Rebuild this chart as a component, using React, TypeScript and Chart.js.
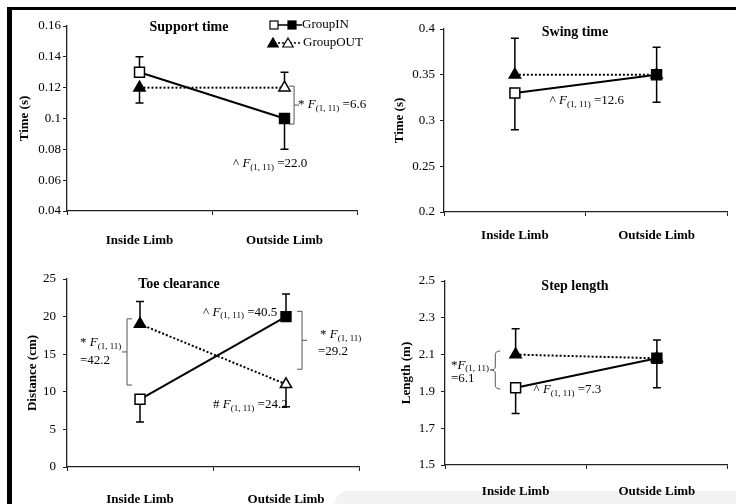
import React, { useEffect, useRef } from "react";
import { Chart, registerables } from "chart.js";

Chart.register(...registerables);

const FONT = '"Liberation Serif", "Times New Roman", serif';

// ---------- data ----------
const categories = ["Inside Limb", "Outside Limb"];
const seriesNames = ["GroupIN", "GroupOUT"];

const supportIn = [0.13, 0.1];
const supportOut = [0.12, 0.12];
const supportInUp = [0.01, 0];
const supportInDown = [0, 0.02];
const supportOutUp = [0, 0.01];
const supportOutDown = [0.01, 0];
const supportTicks = [0.04, 0.06, 0.08, 0.1, 0.12, 0.14, 0.16];
const supportTickLabels = ["0.04", "0.06", "0.08", "0.1", "0.12", "0.14", "0.16"];

const swingIn = [0.33, 0.35];
const swingOut = [0.35, 0.35];
const swingInUp = [0, 0.03];
const swingInDown = [0.04, 0.03];
const swingOutUp = [0.04, 0];
const swingOutDown = [0, 0];
const swingTicks = [0.2, 0.25, 0.3, 0.35, 0.4];
const swingTickLabels = ["0.2", "0.25", "0.3", "0.35", "0.4"];

const toeIn = [9, 20];
const toeOut = [19, 11];
const toeInUp = [0, 3];
const toeInDown = [3, 0];
const toeOutUp = [3, 0];
const toeOutDown = [0, 3];
const toeTicks = [0, 5, 10, 15, 20, 25];
const toeTickLabels = ["0", "5", "10", "15", "20", "25"];

const stepIn = [1.92, 2.08];
const stepOut = [2.1, 2.08];
const stepInUp = [0, 0.1];
const stepInDown = [0.14, 0.16];
const stepOutUp = [0.14, 0];
const stepOutDown = [0, 0];
const stepTicks = [1.5, 1.7, 1.9, 2.1, 2.3, 2.5];
const stepTickLabels = ["1.5", "1.7", "1.9", "2.1", "2.3", "2.5"];

// ---------- annotation helpers ----------
type Part = { t: string; it?: boolean; sub?: boolean };
type Note =
  | { kind: "text"; x: number; y: number; parts: Part[] }
  | { kind: "bracket"; x: number; y1: number; y2: number; side: "left" | "right" | "curly" };

const F = (pre: string, post: string): Part[] => [
  { t: pre },
  { t: "F", it: true },
  { t: "(1, 11)", sub: true },
  { t: post },
];

const supportNotes: Note[] = [
  { kind: "bracket", x: 1.066, y1: 0.121, y2: 0.0964, side: "right" },
  { kind: "text", x: 1.093, y: 0.1088, parts: F("* ", " =6.6") },
  { kind: "text", x: 0.645, y: 0.0705, parts: F("^ ", " =22.0") },
];
const swingNotes: Note[] = [
  { kind: "text", x: 0.246, y: 0.3213, parts: F("^ ", " =12.6") },
];
const toeNotes: Note[] = [
  { kind: "bracket", x: -0.089, y1: 19.7, y2: 10.9, side: "left" },
  { kind: "text", x: -0.411, y: 16.5, parts: F("* ", "") },
  { kind: "text", x: -0.411, y: 14.1, parts: [{ t: "=42.2" }] },
  { kind: "bracket", x: 1.11, y1: 20.7, y2: 13.0, side: "right" },
  { kind: "text", x: 1.233, y: 17.55, parts: F("* ", "") },
  { kind: "text", x: 1.219, y: 15.3, parts: [{ t: "=29.2" }] },
  { kind: "text", x: 0.432, y: 20.6, parts: F("^ ", " =40.5") },
  { kind: "text", x: 0.5, y: 8.24, parts: F("# ", " =24.2") },
];
const stepNotes: Note[] = [
  { kind: "bracket", x: -0.144, y1: 2.12, y2: 1.913, side: "curly" },
  { kind: "text", x: -0.458, y: 2.043, parts: F("*", "") },
  { kind: "text", x: -0.458, y: 1.967, parts: [{ t: "=6.1" }] },
  { kind: "text", x: 0.127, y: 1.908, parts: F("^ ", " =7.3") },
];

type Layout = {
  x: number; y: number; w: number; h: number;
  aL: number; aR: number; aT: number; aB: number;
  yTitlePad: number; yTickPad: number; xTickPad: number;
  titleX: number; titleY: number;
};

type PanelCfg = {
  title: string;
  yTitle: string;
  min: number;
  max: number;
  ticks: number[];
  tickLabels: string[];
  inVals: number[]; outVals: number[];
  inUp: number[]; inDown: number[]; outUp: number[]; outDown: number[];
  notes: Note[];
  legend: boolean;
  L: Layout;
};

const panels: PanelCfg[] = [
  {
    title: "Support time", yTitle: "Time (s)", min: 0.04, max: 0.16,
    ticks: supportTicks, tickLabels: supportTickLabels,
    inVals: supportIn, outVals: supportOut,
    inUp: supportInUp, inDown: supportInDown, outUp: supportOutUp, outDown: supportOutDown,
    notes: supportNotes, legend: true,
    L: { x: 0, y: 0, w: 368, h: 252, aL: 67, aR: 357, aT: 26, aB: 211, yTitlePad: 17, yTickPad: 2, xTickPad: 18, titleX: 189, titleY: 27 },
  },
  {
    title: "Swing time", yTitle: "Time (s)", min: 0.2, max: 0.4,
    ticks: swingTicks, tickLabels: swingTickLabels,
    inVals: swingIn, outVals: swingOut,
    inUp: swingInUp, inDown: swingInDown, outUp: swingOutUp, outDown: swingOutDown,
    notes: swingNotes, legend: false,
    L: { x: 368, y: 0, w: 368, h: 252, aL: 76, aR: 363, aT: 29, aB: 212, yTitlePad: 24, yTickPad: 5, xTickPad: 12, titleX: 207, titleY: 32 },
  },
  {
    title: "Toe clearance", yTitle: "Distance (cm)", min: 0, max: 25,
    ticks: toeTicks, tickLabels: toeTickLabels,
    inVals: toeIn, outVals: toeOut,
    inUp: toeInUp, inDown: toeInDown, outUp: toeOutUp, outDown: toeOutDown,
    notes: toeNotes, legend: false,
    L: { x: 0, y: 252, w: 368, h: 252, aL: 67, aR: 359, aT: 27, aB: 215, yTitlePad: 25, yTickPad: 7, xTickPad: 21, titleX: 179, titleY: 32 },
  },
  {
    title: "Step length", yTitle: "Length (m)", min: 1.5, max: 2.5,
    ticks: stepTicks, tickLabels: stepTickLabels,
    inVals: stepIn, outVals: stepOut,
    inUp: stepInUp, inDown: stepInDown, outUp: stepOutUp, outDown: stepOutDown,
    notes: stepNotes, legend: false,
    L: { x: 368, y: 252, w: 368, h: 252, aL: 77, aR: 364, aT: 29, aB: 213, yTitlePad: 31, yTickPad: 6, xTickPad: 15, titleX: 207, titleY: 34 },
  },
];

function drawParts(ctx: CanvasRenderingContext2D, x: number, y: number, parts: Part[]) {
  let cx = x;
  ctx.textAlign = "left";
  ctx.textBaseline = "middle";
  ctx.fillStyle = "#000";
  for (const p of parts) {
    ctx.font = `${p.it ? "italic " : ""}${p.sub ? 9 : 13}px ${FONT}`;
    ctx.fillText(p.t, cx, p.sub ? y + 4 : y);
    cx += ctx.measureText(p.t).width;
  }
}

function drawSquare(ctx: CanvasRenderingContext2D, x: number, y: number, s: number, fill: string) {
  ctx.fillStyle = fill;
  ctx.fillRect(x - s / 2, y - s / 2, s, s);
  ctx.strokeRect(x - s / 2, y - s / 2, s, s);
}
function drawTri(ctx: CanvasRenderingContext2D, x: number, y: number, r: number, fill: string) {
  ctx.beginPath();
  ctx.moveTo(x, y - r);
  ctx.lineTo(x + r * 0.866, y + r / 2);
  ctx.lineTo(x - r * 0.866, y + r / 2);
  ctx.closePath();
  ctx.fillStyle = fill;
  ctx.fill();
  ctx.stroke();
}

function Panel({ cfg }: { cfg: PanelCfg }) {
  const ref = useRef<HTMLCanvasElement>(null);
  useEffect(() => {
    const L = cfg.L;
    const series = [
      { vals: cfg.inVals, up: cfg.inUp, down: cfg.inDown },
      { vals: cfg.outVals, up: cfg.outUp, down: cfg.outDown },
    ];
    const errPlugin = {
      id: "errbars",
      beforeDatasetsDraw(chart: any) {
        const ctx = chart.ctx as CanvasRenderingContext2D;
        const ys = chart.scales.y;
        ctx.save();
        ctx.strokeStyle = "#000";
        ctx.lineWidth = 1.5;
        series.forEach((s, di) => {
          const meta = chart.getDatasetMeta(di);
          s.vals.forEach((v, i) => {
            const px = meta.data[i].x;
            const draw = (end: number) => {
              const y0 = ys.getPixelForValue(v);
              const y1 = ys.getPixelForValue(end);
              ctx.beginPath();
              ctx.moveTo(px, y0);
              ctx.lineTo(px, y1);
              ctx.moveTo(px - 4, y1);
              ctx.lineTo(px + 4, y1);
              ctx.stroke();
            };
            if (s.up[i]) draw(v + s.up[i]);
            if (s.down[i]) draw(v - s.down[i]);
          });
        });
        ctx.restore();
      },
    };
    const notePlugin = {
      id: "notes",
      afterDraw(chart: any) {
        const ctx = chart.ctx as CanvasRenderingContext2D;
        const xs = chart.scales.x;
        const ys = chart.scales.y;
        ctx.save();
        // panel title
        ctx.font = `bold 14px ${FONT}`;
        ctx.fillStyle = "#000";
        ctx.textAlign = "center";
        ctx.textBaseline = "middle";
        ctx.fillText(cfg.title, L.titleX, L.titleY);
        for (const n of cfg.notes) {
          if (n.kind === "text") {
            drawParts(ctx, xs.getPixelForValue(n.x), ys.getPixelForValue(n.y), n.parts);
          } else {
            const x = xs.getPixelForValue(n.x);
            const t = ys.getPixelForValue(n.y1);
            const b = ys.getPixelForValue(n.y2);
            const m = (t + b) / 2;
            ctx.strokeStyle = "#555";
            ctx.lineWidth = 1;
            ctx.beginPath();
            if (n.side === "right") {
              ctx.moveTo(x - 5, t); ctx.lineTo(x, t); ctx.lineTo(x, b); ctx.lineTo(x - 5, b);
              ctx.moveTo(x, m); ctx.lineTo(x + 5, m);
            } else if (n.side === "left") {
              ctx.moveTo(x + 5, t); ctx.lineTo(x, t); ctx.lineTo(x, b); ctx.lineTo(x + 5, b);
              ctx.moveTo(x, m); ctx.lineTo(x - 5, m);
            } else {
              ctx.moveTo(x + 5, t);
              ctx.quadraticCurveTo(x, t, x, t + 4);
              ctx.lineTo(x, m - 3);
              ctx.quadraticCurveTo(x, m, x - 5, m);
              ctx.quadraticCurveTo(x, m, x, m + 3);
              ctx.lineTo(x, b - 4);
              ctx.quadraticCurveTo(x, b, x + 5, b);
            }
            ctx.stroke();
          }
        }
        if (cfg.legend) {
          ctx.strokeStyle = "#000";
          ctx.lineWidth = 1.5;
          ctx.beginPath();
          ctx.moveTo(274, 25); ctx.lineTo(302, 25);
          ctx.stroke();
          ctx.setLineDash([2, 2]);
          ctx.beginPath();
          ctx.moveTo(274, 43); ctx.lineTo(302, 43);
          ctx.stroke();
          ctx.setLineDash([]);
          ctx.lineWidth = 1.2;
          drawSquare(ctx, 274, 25, 8, "#fff");
          drawSquare(ctx, 292, 25, 8, "#000");
          drawTri(ctx, 273, 44, 6, "#000");
          drawTri(ctx, 288, 44, 6, "#fff");
          ctx.fillStyle = "#000";
          ctx.font = `13px ${FONT}`;
          ctx.textAlign = "left";
          ctx.textBaseline = "middle";
          ctx.fillText(seriesNames[0], 302, 25);
          ctx.fillText(seriesNames[1], 303, 43);
        }
        ctx.restore();
      },
    };

    const chart = new Chart(ref.current as HTMLCanvasElement, {
      type: "line",
      data: {
        labels: categories,
        datasets: [
          {
            label: seriesNames[0],
            data: cfg.inVals,
            borderColor: "#000",
            borderWidth: 2,
            pointStyle: "rect",
            pointRadius: 7,
            pointBackgroundColor: ["#fff", "#000"],
            pointBorderColor: "#000",
            pointBorderWidth: 1.5,
            tension: 0,
          },
          {
            label: seriesNames[1],
            data: cfg.outVals,
            borderColor: "#000",
            borderWidth: 2,
            borderDash: [2, 2],
            pointStyle: "triangle",
            pointRadius: 6.5,
            pointBackgroundColor: ["#000", "#fff"],
            pointBorderColor: "#000",
            pointBorderWidth: 1.5,
            tension: 0,
          },
        ],
      },
      options: {
        animation: false,
        responsive: true,
        maintainAspectRatio: false,
        events: [],
        layout: { padding: { left: 0, top: L.aT, right: L.w - L.aR, bottom: 0 } },
        plugins: { legend: { display: false }, tooltip: { enabled: false }, title: { display: false } },
        scales: {
          x: {
            type: "category",
            offset: true,
            afterFit: (s: any) => { s.height = L.h - L.aB; },
            ticks: { font: { family: FONT, size: 13, weight: "bold" }, color: "#000", padding: L.xTickPad, maxRotation: 0, autoSkip: false },
            grid: { offset: true, drawOnChartArea: false, drawTicks: true, tickLength: 4, color: "#222", lineWidth: 1 },
            border: { display: true, color: "#222", width: 1.3 },
          },
          y: {
            type: "linear",
            min: cfg.min,
            max: cfg.max,
            afterBuildTicks: (s: any) => { s.ticks = cfg.ticks.map((v) => ({ value: v })); },
            afterFit: (s: any) => { s.width = L.aL; },
            ticks: {
              font: { family: FONT, size: 13 },
              color: "#000",
              padding: L.yTickPad,
              callback: (_v: any, i: number) => cfg.tickLabels[i],
            },
            grid: { drawOnChartArea: false, drawTicks: true, tickLength: 4, color: "#222", lineWidth: 1 },
            border: { display: true, color: "#222", width: 1.3 },
            title: {
              display: true,
              text: cfg.yTitle,
              color: "#000",
              font: { family: FONT, size: 13, weight: "bold" },
              padding: { top: L.yTitlePad, bottom: 0 },
            },
          },
        },
      } as any,
      plugins: [errPlugin, notePlugin],
    });
    return () => chart.destroy();
  }, [cfg]);
  const L = cfg.L;
  return (
    <div style={{ position: "absolute", left: L.x, top: L.y, width: L.w, height: L.h }}>
      <canvas ref={ref} />
    </div>
  );
}

export default function App() {
  return (
    <div
      style={{
        position: "absolute",
        left: 0,
        top: 0,
        width: 736,
        height: 504,
        background: "#fff",
        overflow: "hidden",
      }}
    >
      <div
        style={{
          position: "absolute",
          left: 335,
          top: 491,
          width: 401,
          height: 13,
          background: "#f2f2f2",
          borderTopLeftRadius: 14,
        }}
      />
      {panels.map((p, i) => (
        <Panel key={i} cfg={p} />
      ))}
      <div style={{ position: "absolute", left: 7, top: 7, width: 729, height: 3, background: "#000" }} />
      <div style={{ position: "absolute", left: 7, top: 7, width: 5, height: 497, background: "#000" }} />
    </div>
  );
}
